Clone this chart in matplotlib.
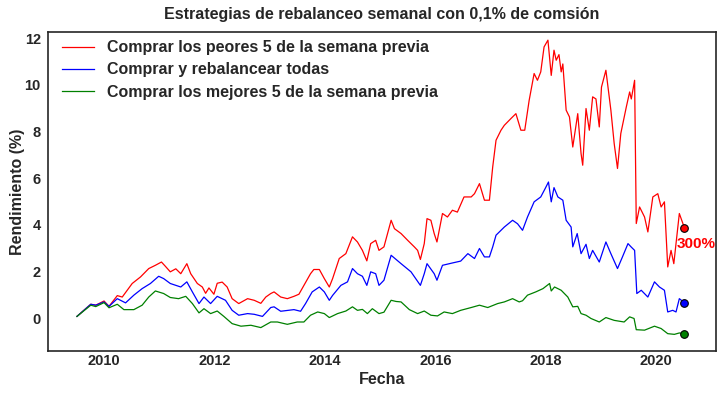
import matplotlib
matplotlib.use("Agg")
import matplotlib.pyplot as plt
import numpy as np

# ---- data (decimal years, cumulative return) ----
worst_x = [2009.51, 2009.60, 2009.76, 2009.85, 2010.00, 2010.09, 2010.24, 2010.33, 2010.51, 2010.66,
           2010.81, 2010.93, 2011.04, 2011.11, 2011.20, 2011.30, 2011.39, 2011.50, 2011.57, 2011.69,
           2011.78, 2011.84, 2011.90, 2011.99, 2012.05, 2012.14, 2012.23, 2012.32, 2012.44, 2012.60,
           2012.72, 2012.84, 2012.93, 2013.02, 2013.08, 2013.20, 2013.32, 2013.44, 2013.53, 2013.62,
           2013.74, 2013.80, 2013.90, 2013.99, 2014.08, 2014.14, 2014.26, 2014.38, 2014.50, 2014.59,
           2014.68, 2014.76, 2014.83, 2014.92, 2014.98, 2015.07, 2015.20, 2015.26, 2015.38, 2015.50,
           2015.62, 2015.68, 2015.73, 2015.80, 2015.85, 2015.92, 2015.98, 2016.03, 2016.13, 2016.22,
           2016.31, 2016.40, 2016.52, 2016.65, 2016.71, 2016.80, 2016.89, 2016.98, 2017.04, 2017.10,
           2017.19, 2017.25, 2017.37, 2017.46, 2017.55, 2017.62, 2017.70, 2017.79, 2017.85, 2017.91,
           2017.97, 2018.04, 2018.10, 2018.15, 2018.19, 2018.24, 2018.28, 2018.31, 2018.37, 2018.43,
           2018.49, 2018.58, 2018.64, 2018.67, 2018.73, 2018.79, 2018.85, 2018.91, 2018.97, 2019.01,
           2019.09, 2019.18, 2019.24, 2019.30, 2019.36, 2019.46, 2019.52, 2019.55, 2019.61, 2019.64,
           2019.70, 2019.79, 2019.85, 2019.94, 2020.03, 2020.09, 2020.15, 2020.21, 2020.27, 2020.32,
           2020.42, 2020.51]
worst_y = [0.08, 0.27, 0.60, 0.56, 0.74, 0.51, 0.97, 0.91, 1.49, 1.77,
           2.13, 2.27, 2.41, 2.23, 1.99, 2.12, 1.91, 2.34, 1.91, 1.49,
           1.34, 1.07, 1.30, 1.03, 1.50, 1.55, 1.34, 0.84, 0.63, 0.84,
           0.77, 0.64, 0.91, 1.06, 1.13, 0.91, 0.84, 0.94, 1.03, 1.41,
           1.91, 2.09, 2.09, 1.70, 1.34, 1.70, 2.56, 2.77, 3.49, 3.27,
           2.91, 2.46, 3.20, 3.34, 2.91, 3.06, 4.20, 3.84, 3.63, 3.34,
           3.06, 2.91, 2.52, 3.20, 4.27, 4.20, 3.63, 3.27, 4.49, 4.34,
           4.63, 4.55, 5.20, 5.20, 5.34, 5.77, 5.06, 5.06, 6.49, 7.63,
           8.06, 8.27, 8.56, 8.77, 8.06, 8.06, 9.34, 10.49, 10.20, 10.56,
           11.63, 11.92, 10.41, 11.49, 11.06, 11.30, 10.56, 10.90, 8.92, 8.63,
           7.34, 8.77, 7.06, 6.56, 8.99, 8.06, 9.49, 9.40, 8.20, 9.91,
           10.63, 8.92, 7.49, 6.42, 7.92, 9.06, 9.70, 9.40, 10.20, 4.06,
           4.77, 4.34, 3.70, 5.20, 5.34, 4.77, 4.99, 2.20, 2.91, 2.34,
           4.49, 3.89]

all_x = [2009.51, 2009.76, 2009.85, 2010.00, 2010.09, 2010.24, 2010.39, 2010.54, 2010.69, 2010.84,
         2010.99, 2011.08, 2011.20, 2011.39, 2011.50, 2011.60, 2011.72, 2011.81, 2011.93, 2012.05,
         2012.20, 2012.32, 2012.44, 2012.60, 2012.72, 2012.87, 2013.02, 2013.08, 2013.20, 2013.44,
         2013.56, 2013.65, 2013.77, 2013.90, 2013.99, 2014.08, 2014.14, 2014.29, 2014.41, 2014.50,
         2014.59, 2014.68, 2014.76, 2014.83, 2014.92, 2014.98, 2015.07, 2015.20, 2015.38, 2015.56,
         2015.73, 2015.80, 2015.85, 2015.98, 2016.03, 2016.13, 2016.31, 2016.46, 2016.59, 2016.71,
         2016.80, 2016.89, 2016.98, 2017.04, 2017.10, 2017.25, 2017.40, 2017.49, 2017.58, 2017.67,
         2017.79, 2017.91, 2017.99, 2018.05, 2018.10, 2018.15, 2018.22, 2018.31, 2018.37, 2018.46,
         2018.49, 2018.57, 2018.64, 2018.73, 2018.79, 2018.85, 2018.97, 2019.09, 2019.18, 2019.30,
         2019.39, 2019.49, 2019.55, 2019.61, 2019.65, 2019.73, 2019.85, 2019.97, 2020.06, 2020.15,
         2020.21, 2020.30, 2020.36, 2020.42, 2020.51]
all_y = [0.08, 0.60, 0.56, 0.70, 0.51, 0.84, 0.66, 0.99, 1.27, 1.49,
         1.80, 1.70, 1.49, 1.34, 1.56, 1.13, 0.63, 0.91, 0.63, 0.94,
         0.77, 0.34, 0.13, 0.20, 0.17, 0.08, 0.46, 0.49, 0.30, 0.37,
         0.30, 0.63, 1.13, 1.34, 1.13, 0.77, 0.98, 1.41, 1.56, 2.13,
         1.91, 1.80, 1.41, 1.99, 1.91, 1.41, 1.63, 2.70, 2.34, 1.99,
         1.41, 1.91, 2.34, 1.91, 1.63, 2.27, 2.37, 2.45, 2.77, 2.56,
         2.99, 2.63, 2.63, 3.06, 3.56, 3.91, 4.20, 4.05, 3.77, 4.34,
         4.99, 5.20, 5.56, 5.84, 4.99, 5.60, 5.20, 5.06, 4.20, 3.91,
         3.06, 3.63, 2.77, 3.17, 2.56, 2.91, 2.41, 3.27, 2.77, 2.13,
         2.63, 3.20, 3.05, 2.91, 1.06, 1.20, 0.91, 1.56, 1.34, 1.20,
         0.27, 0.34, 0.27, 0.84, 0.67]

best_x = [2009.51, 2009.76, 2009.85, 2010.00, 2010.09, 2010.24, 2010.36, 2010.54, 2010.69, 2010.81,
          2010.93, 2011.08, 2011.20, 2011.35, 2011.48, 2011.60, 2011.72, 2011.81, 2011.93, 2012.05,
          2012.17, 2012.32, 2012.48, 2012.66, 2012.84, 2013.02, 2013.14, 2013.32, 2013.50, 2013.62,
          2013.74, 2013.87, 2013.99, 2014.08, 2014.23, 2014.38, 2014.50, 2014.59, 2014.68, 2014.77,
          2014.86, 2014.98, 2015.07, 2015.20, 2015.29, 2015.38, 2015.53, 2015.68, 2015.80, 2015.92,
          2016.04, 2016.16, 2016.31, 2016.46, 2016.65, 2016.80, 2016.95, 2017.13, 2017.25, 2017.40,
          2017.52, 2017.58, 2017.67, 2017.82, 2017.95, 2018.07, 2018.10, 2018.16, 2018.28, 2018.40,
          2018.49, 2018.58, 2018.64, 2018.73, 2018.82, 2018.97, 2019.09, 2019.24, 2019.42, 2019.52,
          2019.60, 2019.64, 2019.79, 2019.97, 2020.09, 2020.21, 2020.33, 2020.42, 2020.51]
best_y = [0.08, 0.56, 0.50, 0.67, 0.45, 0.60, 0.37, 0.37, 0.56, 0.91,
          1.17, 1.06, 0.89, 0.84, 0.94, 0.63, 0.23, 0.41, 0.20, 0.31,
          0.08, -0.23, -0.34, -0.30, -0.40, -0.16, -0.16, -0.26, -0.16, -0.16,
          0.13, 0.27, 0.20, 0.03, 0.20, 0.31, 0.49, 0.34, 0.38, 0.20,
          0.41, 0.20, 0.26, 0.77, 0.72, 0.70, 0.37, 0.20, 0.31, 0.13,
          0.10, 0.27, 0.20, 0.34, 0.46, 0.56, 0.46, 0.63, 0.70, 0.84,
          0.70, 0.75, 0.99, 1.13, 1.27, 1.49, 1.17, 1.34, 1.20, 0.91,
          0.49, 0.51, 0.20, 0.13, -0.01, -0.16, 0.03, -0.09, -0.16, 0.06,
          -0.01, -0.49, -0.51, -0.34, -0.44, -0.66, -0.69, -0.63, -0.66]

series_labels = ["Comprar los peores 5 de la semana previa",
                 "Comprar y rebalancear todas",
                 "Comprar los mejores 5 de la semana previa"]
series_colors = ["red", "blue", "green"]
x_ticks = [2010, 2012, 2014, 2016, 2018, 2020]
annotation_text = "300%"

plt.rcParams['font.family'] = ['Liberation Sans', 'DejaVu Sans']
plt.rcParams['font.weight'] = 'bold'
text_col = '#262626'

fig = plt.figure(figsize=(7.23, 3.95), dpi=100)
ax = fig.add_axes([0.066, 0.111, 0.924, 0.808])

xs = [worst_x, all_x, best_x]
ys = [worst_y, all_y, best_y]
for x, y, lab, c in zip(xs, ys, series_labels, series_colors):
    ax.plot(x, y, color=c, lw=0.9, label=lab)
for x, y, c in zip(xs, ys, series_colors):
    ax.plot(x[-1], y[-1], 'o', color=c, mec='black', mew=0.8, ms=5.5, zorder=5)

ax.text(worst_x[-1] - 0.13, worst_y[-1] - 0.7, annotation_text, color='red',
        fontsize=11, fontweight='bold', ha='left', va='center')

ax.set_xlim(2008.98, 2021.08)
ax.set_ylim(-1.41, 12.27)
ax.set_xticks(x_ticks)
ax.set_xticklabels([str(t) for t in x_ticks])
ax.set_yticks([0, 2, 4, 6, 8, 10, 12])

for s in ax.spines.values():
    s.set_color(text_col)
    s.set_linewidth(1.2)
ax.tick_params(colors=text_col, labelsize=10.5, length=0)
ax.tick_params(axis='x', pad=2)
ax.tick_params(axis='y', pad=5)
for lbl in ax.get_xticklabels() + ax.get_yticklabels():
    lbl.set_fontweight('bold')

ax.set_title("Estrategias de rebalanceo semanal con 0,1% de comsión",
             fontsize=11.5, fontweight='bold', color=text_col, pad=9)
ax.set_xlabel("Fecha", fontsize=11.5, fontweight='bold', color=text_col, labelpad=3)
ax.set_ylabel("Rendimiento (%)", fontsize=11.5, fontweight='bold', color=text_col, labelpad=0)

leg = ax.legend(loc='upper left', bbox_to_anchor=(0.0045, 1.0094), frameon=False,
                prop={'size': 11.5, 'weight': 'bold'},
                handlelength=2.0, handletextpad=0.8, labelspacing=0.45,
                borderaxespad=0.3)
for t in leg.get_texts():
    t.set_color(text_col)

fig.savefig("out.png", dpi=100)
